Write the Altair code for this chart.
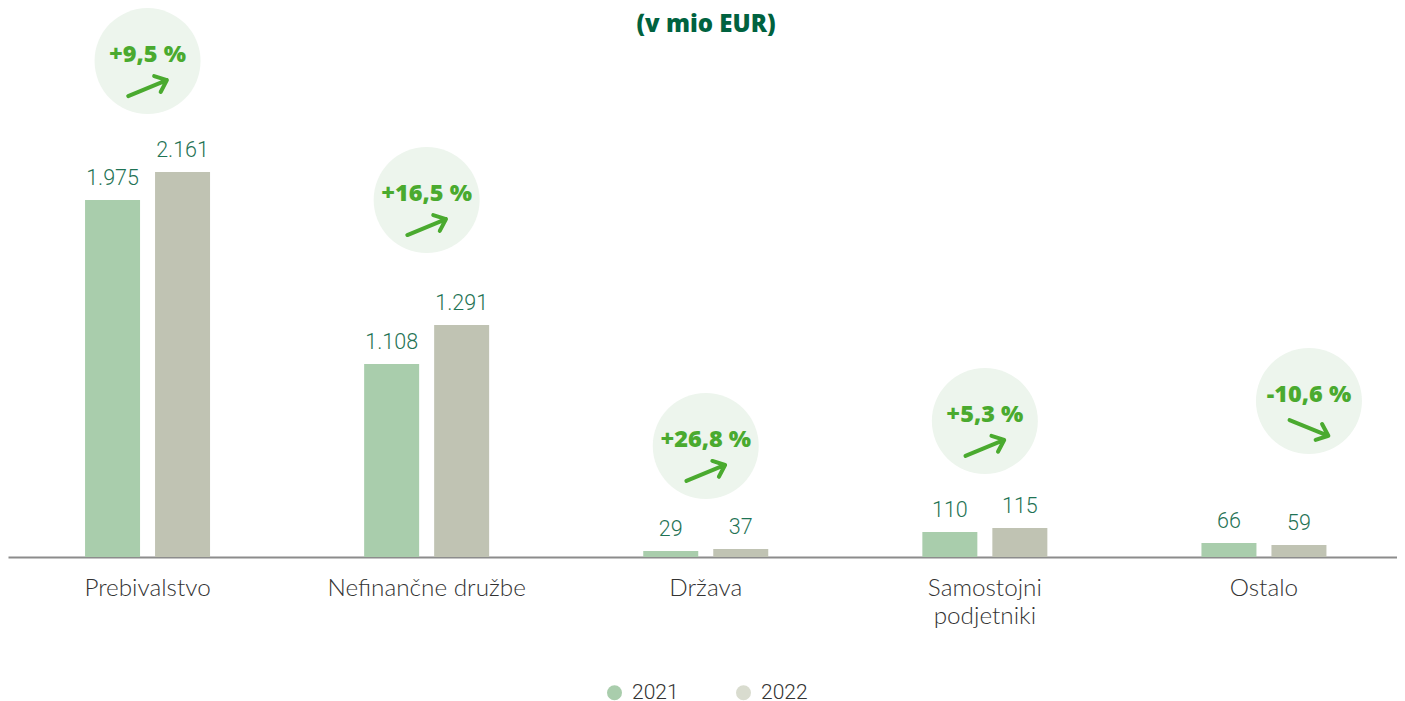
import altair as alt
import pandas as pd

categories = ["Prebivalstvo", "Nefinančne družbe", "Država", "Samostojni|podjetniki", "Ostalo"]
values_2021 = [1983, 1072, 33, 139, 78]
values_2022 = [2139, 1289, 44, 161, 67]
labels_2021 = ["1.975", "1.108", "29", "110", "66"]
labels_2022 = ["2.161", "1.291", "37", "115", "59"]
changes = ["+9,5 %", "+16,5 %", "+26,8 %", "+5,3 %", "-10,6 %"]
bubble_levels = [2755, 1983, 617, 756, 867]
bubble_shift = [0, 0, 0, 0, 45]
arrow_angles = [337.6, 337.6, 337.6, 337.6, 22]
years = ["2021", "2022"]
bar_colors = ["#a9cdac", "#c0c3b3"]
legend_colors = ["#a9cdac", "#d9dccf"]
title_text = "(v mio EUR)"

FONT = "Lato"
HEAVY = "Open Sans"
GREEN = "#4aaa2f"
BAND = 279.1

rows = []
for i, c in enumerate(categories):
    rows.append(dict(cat=c, value=values_2021[i], label=labels_2021[i], year=years[0], off=BAND / 2 - 35, color=bar_colors[0]))
    rows.append(dict(cat=c, value=values_2022[i], label=labels_2022[i], year=years[1], off=BAND / 2 + 35, color=bar_colors[1]))
bars_df = pd.DataFrame(rows)
bub_df = pd.DataFrame(dict(cat=categories, level=bubble_levels, shift=[s + BAND / 2 for s in bubble_shift],
                           angle=arrow_angles, txt=changes))

x = alt.X("cat:N", sort=categories, title=None,
          scale=alt.Scale(paddingInner=0, paddingOuter=0, round=False, range=[0, 1395.5]),
          axis=alt.Axis(labelExpr="split(datum.label,'|')", labelAngle=0, labelFont=FONT, labelFontSize=24.3,
                        labelFontWeight=300, labelColor="#333333", labelPadding=19, labelLineHeight=28,
                        ticks=False, domainColor="#8c8c8c", domainWidth=2, grid=False, labelLimit=400))
YS = alt.Scale(domain=[0, 3050], range=[549, 0])
y = alt.Y("value:Q", title=None, axis=None, scale=YS)
yb = alt.Y("level:Q", title=None, axis=None, scale=YS)
off = alt.XOffset("off:Q", scale=None)
shift = alt.XOffset("shift:Q", scale=None)

bars = alt.Chart(bars_df).mark_bar(width=55).encode(x=x, y=y, xOffset=off, fill=alt.Fill("color:N", scale=None, legend=None))
bar_text = alt.Chart(bars_df).mark_text(baseline="bottom", dy=-10, font="Roboto", fontSize=21.5, fontWeight=300, color="#1f7355").encode(
    x=x, y=y, xOffset=off, text="label:N")
bubbles = alt.Chart(bub_df).mark_point(filled=True, size=11236, color="#edf5ed", opacity=1).encode(x=x, y=yb, xOffset=shift)
bub_text = alt.Chart(bub_df).mark_text(font=HEAVY, fontSize=23.5, fontWeight=800, color=GREEN, dy=-6).encode(
    x=x, y=yb, xOffset=shift, text="txt:N")
arrows = alt.Chart(bub_df).transform_calculate(alevel="datum.level-150").mark_point(
    shape="M-1 0L1 0M0.51 -0.41L1 0L0.51 0.41", filled=False, size=1750, stroke=GREEN, strokeWidth=4,
    strokeCap="round", strokeJoin="round", opacity=1).encode(
    x=x, y=alt.Y("alevel:Q", title=None, axis=None, scale=YS),
    xOffset=shift, angle=alt.Angle("angle:Q", scale=None))
legend_layer = alt.Chart(bars_df).mark_point(filled=True, opacity=1, size=0).encode(
    x=x, y=y,
    color=alt.Color("year:N", scale=alt.Scale(domain=years, range=legend_colors),
                    legend=alt.Legend(orient="none", legendX=596, legendY=674, direction="horizontal", title=None,
                                      symbolType="circle", symbolSize=225, labelFont="Roboto", labelFontSize=21,
                                      labelFontWeight=300, labelColor="#333333", columnPadding=54, labelOffset=7,
                                      symbolOpacity=1)))
title = alt.Chart(pd.DataFrame(dict(t=[title_text]))).mark_text(
    font=HEAVY, fontSize=24, fontWeight=800, color="#00623f", baseline="middle").encode(
    text="t:N", x=alt.value(698), y=alt.value(17))

chart = alt.layer(bars, bar_text, bubbles, bub_text, arrows, legend_layer, title).properties(
    width=1389, height=549,
    autosize=alt.AutoSizeParams(type="none"),
    padding={"left": 0, "top": 0, "right": 0, "bottom": 155},
).configure_view(stroke=None)

chart.save("out.html", embed_options={"renderer": "svg", "actions": False})
